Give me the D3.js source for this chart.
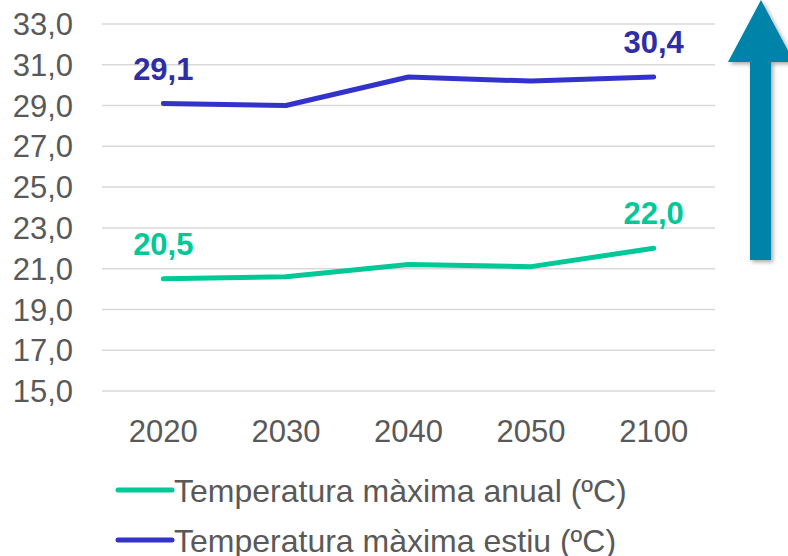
<!DOCTYPE html>
<html>
<head>
<meta charset="utf-8">
<script src="https://cdn.jsdelivr.net/npm/d3@7"></script>
<style>
  body { margin: 0; background: #fff; }
  text { font-family: "Liberation Sans", Arial, sans-serif; }
</style>
</head>
<body>
<div id="chart"></div>
<script>
var width = 788,
    height = 556;

var years = ["2020", "2030", "2040", "2050", "2100"];
var anual = [20.5, 20.6, 21.2, 21.1, 22.0];
var estiu = [29.1, 29.0, 30.4, 30.2, 30.4];
var yTicks = [15, 17, 19, 21, 23, 25, 27, 29, 31, 33];
var seriesNames = ["Temperatura màxima anual (ºC)", "Temperatura màxima estiu (ºC)"];

var colAnual = "#00c896",
    colEstiu = "#3333cc";

var fmt = function (v) { return d3.format(".1f")(v).replace(".", ","); };

var svg = d3.select("#chart").append("svg")
    .attr("width", width)
    .attr("height", height);

var x = d3.scalePoint()
  .domain(years)
  .range([102, 715])
  .padding(0.5);

var y = d3.scaleLinear()
  .domain([15, 33])
  .range([391, 24]);

// grid
svg.append("g").selectAll("line")
  .data(yTicks)
.enter()
  .append("line")
  .attr("x1", 102).attr("x2", 715)
  .attr("y1", function (d) { return y(d); })
  .attr("y2", function (d) { return y(d); })
  .attr("stroke", "#d9d9d9")
  .attr("stroke-width", 1.5);

// y labels
svg.append("g").selectAll("text")
  .data(yTicks)
.enter()
  .append("text")
  .attr("x", 73)
  .attr("y", function (d) { return y(d); })
  .attr("dy", "0.36em")
  .attr("text-anchor", "end")
  .attr("font-size", 31)
  .attr("fill", "#595959")
  .text(fmt);

// x labels
svg.append("g").selectAll("text")
  .data(years)
.enter()
  .append("text")
  .attr("x", function (d) { return x(d); })
  .attr("y", 442)
  .attr("text-anchor", "middle")
  .attr("font-size", 31)
  .attr("fill", "#595959")
  .text(function (d) { return d; });

var line = d3.line()
  .x(function (d, i) { return x(years[i]); })
  .y(function (d) { return y(d); });

var series = [
  {values: anual, color: colAnual, label: "#00c896"},
  {values: estiu, color: colEstiu, label: "#2e2ea6"}
];

series.forEach(function (s) {
  svg.append("path")
    .attr("d", line(s.values))
    .attr("fill", "none")
    .attr("stroke", s.color)
    .attr("stroke-width", 5)
    .attr("stroke-linecap", "round")
    .attr("stroke-linejoin", "round");

  [0, s.values.length - 1].forEach(function (i) {
    svg.append("text")
      .attr("x", x(years[i]))
      .attr("y", y(s.values[i]) - 24)
      .attr("text-anchor", "middle")
      .attr("font-size", 31)
      .attr("font-weight", "bold")
      .attr("fill", s.label)
      .text(fmt(s.values[i]));
  });
});

// legend
series.forEach(function (s, i) {
  var ly = 490 + i * 50;
  svg.append("line")
    .attr("x1", 118).attr("x2", 172)
    .attr("y1", ly).attr("y2", ly)
    .attr("stroke", s.color)
    .attr("stroke-width", 5)
    .attr("stroke-linecap", "round");
  svg.append("text")
    .attr("x", 174)
    .attr("y", ly)
    .attr("dy", "0.36em")
    .attr("font-size", 32)
    .attr("fill", "#595959")
    .text(seriesNames[i]);
});

// arrow
var defs = svg.append("defs");
var f = defs.append("filter").attr("id", "sh")
  .attr("x", "-20%").attr("y", "-20%").attr("width", "150%").attr("height", "150%");
f.append("feDropShadow")
  .attr("dx", 2).attr("dy", 2).attr("stdDeviation", 2)
  .attr("flood-color", "#000").attr("flood-opacity", 0.35);

svg.append("path")
  .attr("d", "M750,260 L771,260 L771,62 L794,62 L761,0 L728,62 L750,62 Z")
  .attr("fill", "#0083a8")
  .attr("filter", "url(#sh)");
</script>
</body>
</html>
